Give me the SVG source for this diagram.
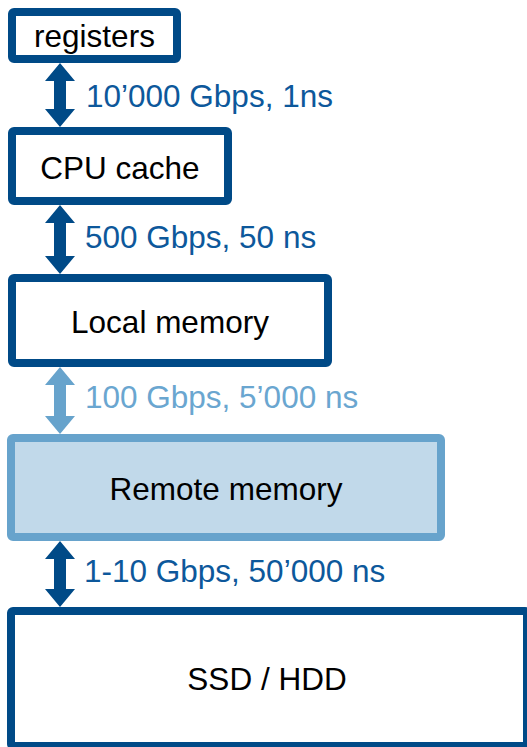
<svg xmlns="http://www.w3.org/2000/svg" width="527" height="747" viewBox="0 0 527 747">
<style>
.box{fill:#ffffff;stroke:#004a87;stroke-width:8}
.lbox{fill:#c1d9ea;stroke:#67a3cc;stroke-width:8}
.t{font-family:"Liberation Sans",Arial,sans-serif;font-size:31.5px;fill:#000000;text-anchor:middle}
.lab{font-family:"Liberation Sans",Arial,sans-serif;font-size:31.5px;fill:#0d589b}
.lab2{font-family:"Liberation Sans",Arial,sans-serif;font-size:31.5px;fill:#6aa6d0}
.ar{fill:#004a87}
.ar2{fill:#67a3cc}
</style>
<rect width="527" height="747" fill="#ffffff"/>
<g id="connectors">
<path class="ar" d="M60,63 L75,81 L66,81 L66,109 L75,109 L60,127 L45,109 L54,109 L54,81 L45,81 Z"/>
<path class="ar" d="M60,205 L75,223 L66,223 L66,256 L75,256 L60,274 L45,256 L54,256 L54,223 L45,223 Z"/>
<path class="ar2" d="M60,367 L75,385 L66,385 L66,416 L75,416 L60,434 L45,416 L54,416 L54,385 L45,385 Z"/>
<path class="ar" d="M60,541 L75,559 L66,559 L66,589 L75,589 L60,607 L45,589 L54,589 L54,559 L45,559 Z"/>
<text class="lab" x="86" y="107">10’000 Gbps, 1ns</text>
<text class="lab" x="85" y="248">500 Gbps, 50 ns</text>
<text class="lab2" x="85" y="408">100 Gbps, 5’000 ns</text>
<text class="lab" x="84" y="582">1-10 Gbps, 50’000 ns</text>
</g>
<g id="registers">
<rect class="box" x="12" y="12" width="165" height="47" rx="2"/>
<text class="t" x="94.5" y="47">registers</text>
</g>
<g id="cpu-cache">
<rect class="box" x="12" y="131" width="216" height="70" rx="2"/>
<text class="t" x="120" y="179">CPU cache</text>
</g>
<g id="local-memory">
<rect class="box" x="12" y="278" width="316" height="85" rx="2"/>
<text class="t" x="170" y="333">Local memory</text>
</g>
<g id="remote-memory">
<rect class="lbox" x="11" y="438" width="430" height="99" rx="2"/>
<text class="t" x="226" y="500">Remote memory</text>
</g>
<g id="ssd-hdd">
<rect class="box" x="11" y="611" width="516" height="135" rx="2"/>
<text class="t" x="267" y="690">SSD / HDD</text>
</g>
</svg>
